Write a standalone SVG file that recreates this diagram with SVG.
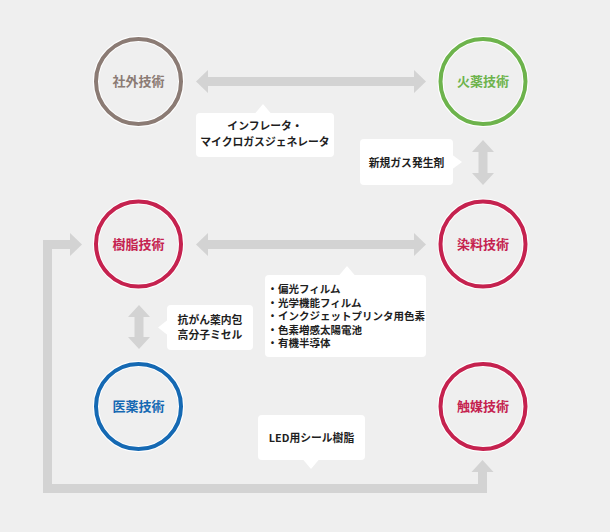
<svg xmlns="http://www.w3.org/2000/svg" width="610" height="532" viewBox="0 0 610 532">
<defs>
<style>
.bg{fill:#efefef}
.arr{fill:#d3d3d3}
.halo{fill:none;stroke:#ffffff;stroke-width:6}
.ring{fill:none;stroke-width:4}
.ntxt{font-family:"Noto Sans CJK JP","Noto Sans",sans-serif;font-size:13px;font-weight:bold;text-anchor:middle}
.box{fill:#ffffff}
.btxt{font-family:"Noto Sans CJK JP","Noto Sans",sans-serif;font-size:10.8px;font-weight:bold;fill:#1e1e1e}
.ltxt{font-family:"Noto Sans CJK JP","Noto Sans",sans-serif;font-size:10.5px;font-weight:bold;fill:#1e1e1e}
.mid{text-anchor:middle}
</style>
</defs>
<rect class="bg" x="0" y="0" width="610" height="532"/>

<g id="connectors">
<polygon class="arr" points="196,81.5 208,70 208,77 414,77 414,70 426,81.5 414,93 414,86 208,86 208,93"/>
<polygon class="arr" points="196,244.5 208,233 208,240 414,240 414,233 426,244.5 414,256 414,249 208,249 208,256"/>
<polygon class="arr" points="483,140 494,152 487.5,152 487.5,173 494,173 483,185 472,173 478.5,173 478.5,152 472,152"/>
<polygon class="arr" points="139,305 150,317 143.5,317 143.5,337 150,337 139,349 128,337 134.5,337 134.5,317 128,317"/>
<polygon class="arr" points="43,240 70,240 70,233 82,244.5 70,256 70,249 52,249 52,484 478,484 478,472 471.5,472 482.5,460 493.5,472 487,472 487,493 43,493"/>
</g>

<g id="node-shagai">
<circle class="halo" cx="138.5" cy="81.5" r="42.5"/>
<circle class="ring" cx="138.5" cy="81.5" r="42.5" stroke="#8b7b74"/>
<text class="ntxt" x="138.5" y="86.3" fill="#8b7b74">社外技術</text>
</g>
<g id="node-kayaku">
<circle class="halo" cx="483" cy="81.5" r="42.5"/>
<circle class="ring" cx="483" cy="81.5" r="42.5" stroke="#6db34c"/>
<text class="ntxt" x="483" y="86.3" fill="#6db34c">火薬技術</text>
</g>
<g id="node-jushi">
<circle class="halo" cx="138.5" cy="244" r="42.5"/>
<circle class="ring" cx="138.5" cy="244" r="42.5" stroke="#c5224f"/>
<text class="ntxt" x="138.5" y="248.8" fill="#c5224f">樹脂技術</text>
</g>
<g id="node-senryo">
<circle class="halo" cx="483" cy="244" r="42.5"/>
<circle class="ring" cx="483" cy="244" r="42.5" stroke="#c5224f"/>
<text class="ntxt" x="483" y="248.8" fill="#c5224f">染料技術</text>
</g>
<g id="node-iyaku">
<circle class="halo" cx="138.5" cy="406.5" r="42.5"/>
<circle class="ring" cx="138.5" cy="406.5" r="42.5" stroke="#1569b3"/>
<text class="ntxt" x="138.5" y="411.3" fill="#1569b3">医薬技術</text>
</g>
<g id="node-shokubai">
<circle class="halo" cx="483" cy="406.5" r="42.5"/>
<circle class="ring" cx="483" cy="406.5" r="42.5" stroke="#c5224f"/>
<text class="ntxt" x="483" y="411.3" fill="#c5224f">触媒技術</text>
</g>

<g id="label-inflator">
<rect class="box" x="196" y="113" width="138" height="44" rx="4"/>
<polygon class="box" points="255,113.5 263,104 271,113.5"/>
<text class="btxt mid" x="265" y="130">インフレータ・</text>
<text class="btxt mid" x="265" y="146">マイクロガスジェネレータ</text>
</g>
<g id="label-gas">
<rect class="box" x="360" y="139" width="93" height="46" rx="4"/>
<polygon class="box" points="452.5,155 462,162 452.5,169"/>
<text class="btxt mid" x="406.5" y="167">新規ガス発生剤</text>
</g>
<g id="label-micelle">
<rect class="box" x="167" y="305" width="86" height="45" rx="4"/>
<polygon class="box" points="167.5,320 158,327.5 167.5,335"/>
<text class="btxt mid" x="210" y="324">抗がん薬内包</text>
<text class="btxt mid" x="210" y="339">高分子ミセル</text>
</g>
<g id="label-dyes">
<rect class="box" x="265" y="275" width="161" height="82" rx="4"/>
<polygon class="box" points="339,275.5 347,266 355,275.5"/>
<text class="ltxt" y="293"><tspan x="267.3">・</tspan><tspan x="278">偏光フィルム</tspan></text>
<text class="ltxt" y="306.5"><tspan x="267.3">・</tspan><tspan x="278">光学機能フィルム</tspan></text>
<text class="ltxt" y="320"><tspan x="267.3">・</tspan><tspan x="278">インクジェットプリンタ用色素</tspan></text>
<text class="ltxt" y="333.5"><tspan x="267.3">・</tspan><tspan x="278">色素増感太陽電池</tspan></text>
<text class="ltxt" y="347"><tspan x="267.3">・</tspan><tspan x="278">有機半導体</tspan></text>
</g>
<g id="label-led">
<rect class="box" x="258" y="415" width="107" height="45" rx="4"/>
<polygon class="box" points="303,459.5 311,469 319,459.5"/>
<text class="btxt mid" x="311.5" y="442">LED用シール樹脂</text>
</g>
</svg>
